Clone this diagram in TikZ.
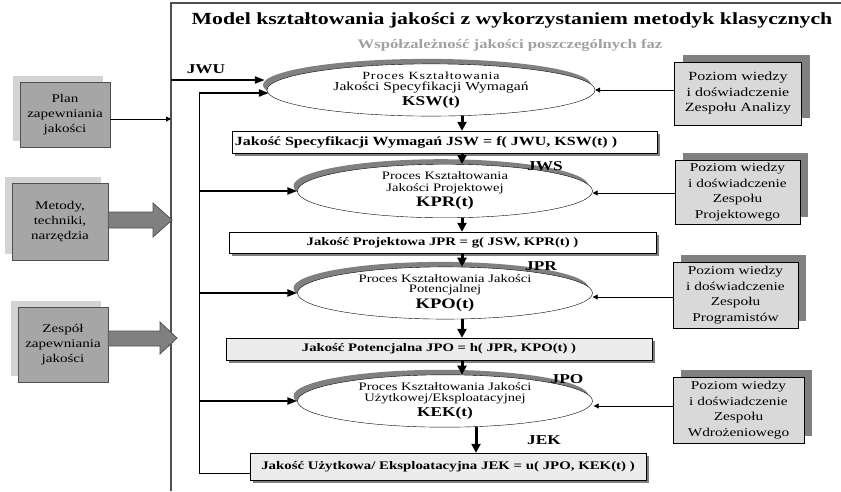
\documentclass[tikz,border=0pt]{standalone}
\usepackage{fontspec}
\setmainfont{Liberation Serif}[FakeStretch=1.28]
\usetikzlibrary{shapes.geometric,arrows.meta,calc,shadows}

\definecolor{shadegray}{HTML}{808080}
\definecolor{lightbox}{HTML}{D9D9D9}
\definecolor{leftfill}{HTML}{A6A6A6}
\definecolor{leftshade}{HTML}{D3D3D3}
\definecolor{subgray}{HTML}{A0A0A0}
\definecolor{potfill}{HTML}{ECECEC}
\definecolor{framegray}{HTML}{505050}

\newcommand{\spaced}[2]{{\addfontfeature{LetterSpace=#1}#2}}

\begin{document}
\begin{tikzpicture}[x=1pt,y=-1pt,
  proc/.style={ellipse, draw, fill=white, inner sep=0pt, align=center,
    general shadow={fill=shadegray, shadow xshift=-4pt, shadow yshift=5pt},
    font=\fontsize{11.4}{11.4}\selectfont},
  qbox/.style={draw, inner sep=0pt, align=center,
    general shadow={fill=shadegray, shadow xshift=3pt, shadow yshift=-3pt},
    font=\bfseries\fontsize{11.5}{12}\selectfont},
  leftbox/.style={draw=framegray, fill=leftfill, inner sep=0pt, align=center,
    general shadow={fill=leftshade, shadow xshift=-7pt, shadow yshift=6pt},
    font=\fontsize{11.8}{15}\selectfont},
  teambox/.style={draw, fill=lightbox, inner sep=0pt, align=center,
    general shadow={fill=shadegray, shadow xshift=8pt, shadow yshift=7pt},
    font=\fontsize{12}{15.5}\selectfont},
  flowarrow/.style={line width=3pt, -{Triangle[length=9pt,width=9pt]}},
  feedarrow/.style={line width=2.2pt, -{Triangle[length=10pt,width=7pt]}},
  thinarrow/.style={line width=0.9pt, -{Triangle[length=5pt,width=5pt]}},
  fatarrow/.style={fill=shadegray, draw=framegray, line width=0.8pt},
  lbl/.style={font=\bfseries\fontsize{13.5}{13.5}\selectfont}
]
\useasboundingbox (0,0) rectangle (841,491);

% outer frame (top and left edges)
\draw[framegray, line width=1.2pt] (171,491) -- (171,3) -- (841,3);

% headings
\node[font=\bfseries\fontsize{17}{17}\selectfont] (title) at (512,20)
  {Model kształtowania jakości z wykorzystaniem metodyk klasycznych};
\node[text=subgray, font=\bfseries\fontsize{13}{13}\selectfont] (sub) at (510,45)
  {Współzależność jakości poszczególnych faz};

% process ellipses
\node[proc, minimum width=328pt, minimum height=50pt] (e1) at (431,90)
  {{\fontsize{11}{11}\selectfont\spaced{8}{Proces Kształtowania}}\\
   {\fontsize{12.2}{12.2}\selectfont Jakości Specyfikacji Wymagań}\\[2pt]
   {\bfseries\fontsize{13.5}{13.5}\selectfont KSW(t)}};
\node[proc, minimum width=295pt, minimum height=46pt] (e2) at (445,191)
  {Proces Kształtowania\\Jakości Projektowej\\[2pt]{\bfseries\fontsize{14.5}{14.5}\selectfont KPR(t)}};
\node[proc, minimum width=295pt, minimum height=49pt] (e3) at (445,293)
  {Proces Kształtowania Jakości\\[-1pt]Potencjalnej\\[2pt]{\bfseries\fontsize{14.5}{14.5}\selectfont KPO(t)}};
\node[proc, minimum width=295pt, minimum height=52pt] (e4) at (445,401)
  {Proces Kształtowania Jakości\\Użytkowej/Eksploatacyjnej\\[2pt]{\bfseries\fontsize{13.5}{13.5}\selectfont KEK(t)}};

% quality result boxes
\node[qbox, fill=white, minimum width=425pt, minimum height=22pt,
      font=\bfseries\fontsize{12.5}{12.5}\selectfont] (b1) at (444.5,142)
  {Jakość Specyfikacji Wymagań JSW = f( JWU, KSW(t) )\hspace{37pt}};
\node[qbox, fill=white, minimum width=427pt, minimum height=21pt] (b2) at (442.5,242.5)
  {Jakość Projektowa JPR = g( JSW, KPR(t) )};
\node[qbox, fill=potfill, minimum width=426pt, minimum height=22pt] (b3) at (439,349)
  {Jakość Potencjalna JPO = h( JPR, KPO(t) )};
\node[qbox, fill=potfill, minimum width=396pt, minimum height=27pt,
      font=\bfseries\fontsize{11.6}{11.6}\selectfont] (b4) at (448,466.5)
  {Jakość Użytkowa/ Eksploatacyjna JEK = u( JPO, KEK(t) )};

% flow between phases
\coordinate (ax) at (462,0);
\coordinate (bx) at (476,0);
\draw[flowarrow] (e1.south -| ax) -- (b1.north -| ax);
\draw[flowarrow] (b1.south -| ax) -- (e2.north -| ax);
\draw[flowarrow] (e2.south -| ax) -- (b2.north -| ax);
\draw[flowarrow] (b2.south -| ax) -- (e3.north -| ax);
\draw[flowarrow] (e3.south -| ax) -- (b3.north -| ax);
\draw[flowarrow] (b3.south -| ax) -- (e4.north -| ax);
\draw[flowarrow] (e4.south -| bx) -- (b4.north -| bx);

% phase quality labels
\node[lbl] (jwu) at (206,69) {JWU};
\node[lbl] (jws) at (545,166) {JWS};
\node[lbl] (jpr) at (541,266) {JPR};
\node[lbl] (jpo) at (567,379) {JPO};
\node[lbl] (jek) at (544,440) {JEK};

% input quality and feedback loop
\coordinate (frameL) at (171,80);
\coordinate (fb) at (199,0);
\draw[feedarrow] (frameL) -- ($(e1.west)+(-2,-10)$);
\draw[line width=0.9pt] ($(b4.west)+(0,6.5)$) -| ($(fb |- e1.west)+(0,3)$);
\draw[feedarrow] ($(fb |- e1.west)+(-0.45,3)$) -- ($(e1.west)+(2,3)$);
\draw[feedarrow] (fb |- e2.west) -- (e2.west);
\draw[feedarrow] (fb |- e3.west) -- (e3.west);
\draw[feedarrow] (fb |- e4.west) -- (e4.west);

% team knowledge boxes
\node[teambox, minimum width=127pt, minimum height=63pt,
      font=\fontsize{12.5}{15.5}\selectfont] (r1) at (738,93.5)
  {Poziom wiedzy\\i doświadczenie\\Zespołu Analizy};
\node[teambox, minimum width=125pt, minimum height=64pt] (r2) at (737.5,192)
  {Poziom wiedzy\\i doświadczenie\\Zespołu\\Projektowego};
\node[teambox, minimum width=125pt, minimum height=66pt] (r3) at (735.5,295)
  {Poziom wiedzy\\i doświadczenie\\Zespołu\\Programistów};
\node[teambox, minimum width=131pt, minimum height=66pt] (r4) at (738.5,410)
  {Poziom wiedzy\\i doświadczenie\\Zespołu\\Wdrożeniowego};
\draw[thinarrow] (r1.west |- e1.east) -- (e1.east);
\draw[thinarrow] ($(r2.west |- e2.east)+(0,2)$) -- ($(e2.east)+(0,2)$);
\draw[thinarrow] ($(r3.west |- e3.east)+(0,4)$) -- ($(e3.east)+(0,4)$);
\draw[thinarrow] ($(r4.west |- e4.east)+(0,5)$) -- ($(e4.east)+(1,5)$);

% supporting elements on the left
\node[leftbox, minimum width=90pt, minimum height=65pt] (pa) at (65,114.5)
  {Plan\\zapewniania\\jakości};
\node[leftbox, minimum width=96pt, minimum height=77pt] (mt) at (60,221.5)
  {Metody,\\techniki,\\narzędzia};
\node[leftbox, minimum width=90pt, minimum height=75pt] (zs) at (63,344.5)
  {Zespół\\zapewniania\\jakości};

\draw[thinarrow] ($(pa.east)+(0,4.5)$) -- ($(pa.east -| frameL)+(0,4.5)$);

% wide arrows into the model
\draw[fatarrow] (mt.east |- 0,212) -- (153,212) -- (153,203) -- (172,220)
  -- (153,237) -- (153,228) -- (mt.east |- 0,228) -- cycle;
\draw[fatarrow] (zs.east |- 0,331) -- (160,331) -- (160,322) -- (177,338)
  -- (160,354) -- (160,346) -- (zs.east |- 0,346) -- cycle;
\end{tikzpicture}
\end{document}
